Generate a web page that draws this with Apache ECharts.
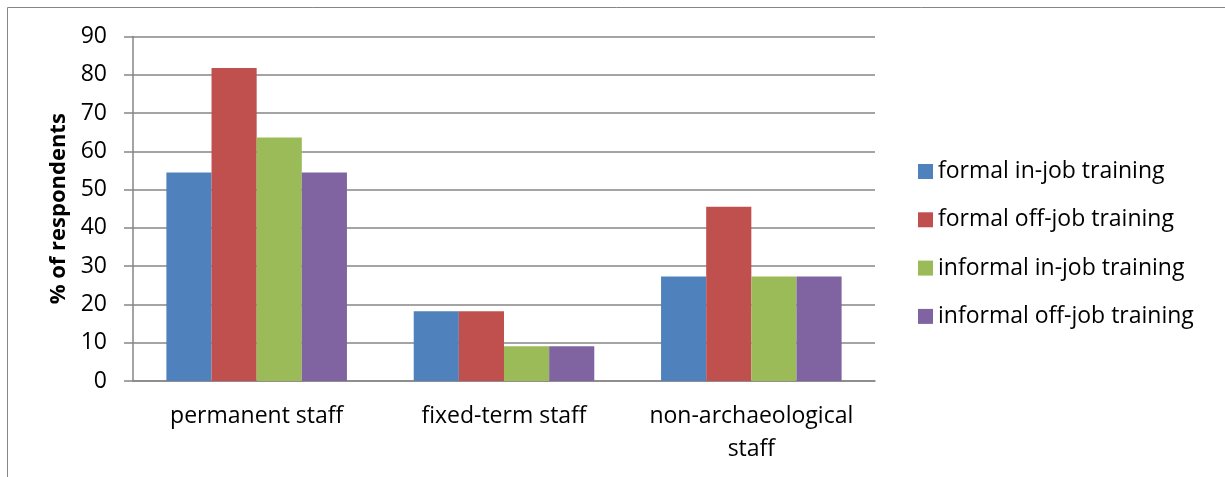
<!DOCTYPE html>
<html>
<head>
<meta charset="utf-8">
<script src="https://cdn.jsdelivr.net/npm/echarts@6/dist/echarts.min.js"></script>
<style>
  html, body { margin: 0; padding: 0; background: #fff; }
  #chart { width: 1225px; height: 477px; }
</style>
</head>
<body>
<div id="chart"></div>
<script>
// Staff groups on the category axis
const categories = ['permanent staff', 'fixed-term staff', 'non-archaeological\nstaff'];

// Share of respondents (%) per training type
const formalInJob = [54.5, 18.2, 27.3];
const formalOffJob = [81.8, 18.2, 45.5];
const informalInJob = [63.6, 9.1, 27.3];
const informalOffJob = [54.5, 9.1, 27.3];

const seriesNames = [
  'formal in-job training',
  'formal off-job training',
  'informal in-job training',
  'informal off-job training'
];
const seriesData = [formalInJob, formalOffJob, informalInJob, informalOffJob];
const colors = ['#4F81BD', '#C0504D', '#9BBB59', '#8064A2'];

const FONT = '"Open Sans", Lato, sans-serif';
const GRID_GRAY = '#868686';

const chart = echarts.init(document.getElementById('chart'), null, { renderer: 'canvas' });

chart.setOption({
  animation: false,
  color: colors,
  textStyle: { fontFamily: FONT },
  graphic: [{
    type: 'rect',
    shape: { x: 7.5, y: 7.5, width: 1240, height: 500 },
    style: { fill: 'none', stroke: GRID_GRAY, lineWidth: 1 },
    silent: true
  }],
  grid: { left: 133, right: 350, top: 36.5, bottom: 96 },
  legend: {
    orient: 'vertical',
    left: 918,
    top: 160,
    padding: 0,
    itemWidth: 15,
    itemHeight: 15,
    itemGap: 25.3,
    icon: 'rect',
    textStyle: { fontFamily: FONT, fontSize: 23, color: '#000' },
    data: seriesNames
  },
  xAxis: {
    type: 'category',
    data: categories,
    axisLine: { lineStyle: { color: GRID_GRAY, width: 1.5 } },
    axisTick: { show: false },
    axisLabel: {
      interval: 0,
      hideOverlap: false,
      fontFamily: FONT,
      fontSize: 23,
      color: '#000',
      margin: 19,
      lineHeight: 33
    }
  },
  yAxis: {
    type: 'value',
    min: 0,
    max: 90,
    interval: 10,
    name: '% of respondents',
    nameLocation: 'middle',
    nameGap: 63,
    nameTextStyle: { fontFamily: FONT, fontSize: 22, fontWeight: 'bold', color: '#000' },
    axisLine: { show: true, lineStyle: { color: GRID_GRAY, width: 1.5 } },
    axisTick: { show: true, length: 9, lineStyle: { color: GRID_GRAY, width: 1.5 } },
    axisLabel: { fontFamily: FONT, fontSize: 23, color: '#000', margin: 26 },
    splitLine: { lineStyle: { color: GRID_GRAY, width: 1.5 } }
  },
  series: seriesNames.map((name, i) => ({
    name,
    type: 'bar',
    data: seriesData[i],
    barGap: '0%',
    barCategoryGap: '27%',
    itemStyle: { color: colors[i] }
  }))
});
</script>
</body>
</html>
